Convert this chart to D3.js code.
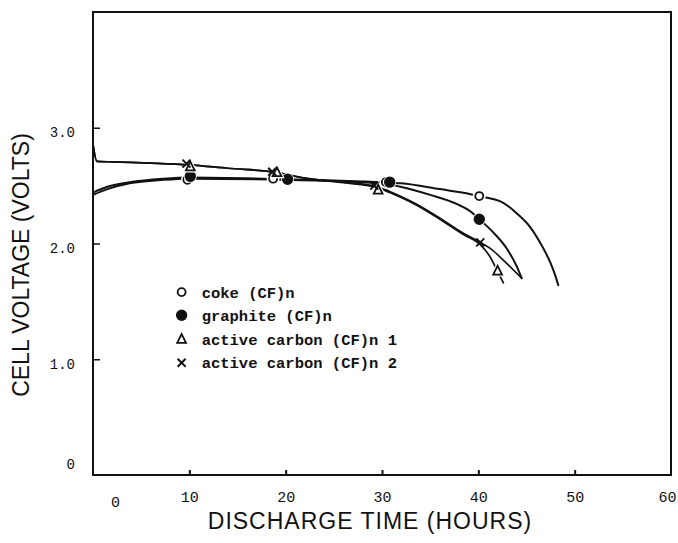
<!DOCTYPE html>
<html>
<head>
<meta charset="utf-8">
<script src="https://cdn.jsdelivr.net/npm/d3@7"></script>
<style>
  body { margin: 0; background: #fff; }
</style>
</head>
<body>
<div id="chart"></div>
<script>
// axis ticks
const xTickValues = [0, 10, 20, 30, 40, 50, 60];
const yTickValues = [0, 1, 2, 3];
const yTickLabels = ['0', '1.0', '2.0', '3.0'];

// curves: [hours, volts]
const cokeCurve = [[0, 2.44], [1.5, 2.49], [3.8, 2.53], [7.3, 2.56], [10, 2.57], [20, 2.555],
  [25, 2.545], [30, 2.53], [32, 2.52], [36, 2.47], [39, 2.43], [40, 2.41], [42.4, 2.36],
  [44, 2.26], [45.4, 2.14], [46.6, 1.98], [47.5, 1.83], [48, 1.72], [48.3, 1.64]];
const graphiteCurve = [[0, 2.42], [1.5, 2.47], [3.8, 2.52], [7.3, 2.55], [10, 2.56], [20, 2.55],
  [30, 2.52], [31.9, 2.49], [35, 2.42], [37.8, 2.34], [39.3, 2.27], [40.1, 2.21], [41.5, 2.10],
  [43, 1.95], [44, 1.80], [44.5, 1.70]];
const active1Curve = [[0, 2.86], [0.4, 2.71], [2, 2.705], [6, 2.695], [10, 2.68], [14, 2.65],
  [19, 2.615], [22, 2.565], [26, 2.525], [29.6, 2.48], [30.8, 2.44], [33.6, 2.33], [36, 2.21],
  [38.4, 2.08], [40.2, 1.99], [41.1, 1.90], [42, 1.76], [42.6, 1.66]];
const active2Curve = [[0, 2.86], [0.4, 2.71], [2, 2.705], [6, 2.695], [10, 2.68], [14, 2.65],
  [19, 2.615], [22, 2.565], [26, 2.53], [29.6, 2.49], [30.8, 2.45], [33.6, 2.34], [36, 2.22],
  [38.4, 2.09], [40.2, 2.01], [41.2, 1.96], [42.8, 1.84], [44.5, 1.70]];

// plotted symbols: [hours, volts]
const cokeMarks = [[9.8, 2.55], [18.7, 2.56], [30.4, 2.53], [40.1, 2.41]];
const graphiteMarks = [[10.1, 2.58], [20.2, 2.555], [30.8, 2.53], [40.1, 2.21]];
const active1Marks = [[10.1, 2.66], [19.1, 2.61], [29.6, 2.46], [42, 1.76]];
const active2Marks = [[9.7, 2.69], [18.6, 2.62], [29.2, 2.50], [40.2, 2.01]];

const legendLabels = ['coke (CF)n', 'graphite (CF)n', 'active carbon (CF)n 1', 'active carbon (CF)n 2'];
const legendValues = [1.58, 1.38, 1.17, 0.97];

const series = [
  { name: legendLabels[0], curve: cokeCurve, marks: cokeMarks, symbol: 'open', width: 2 },
  { name: legendLabels[1], curve: graphiteCurve, marks: graphiteMarks, symbol: 'filled', width: 2 },
  { name: legendLabels[2], curve: active1Curve, marks: active1Marks, symbol: 'triangle', width: 1.7 },
  { name: legendLabels[3], curve: active2Curve, marks: active2Marks, symbol: 'cross', width: 1.7 }
];

const width = 678;
const height = 543;
const margin = { top: 12, right: 7, bottom: 68, left: 93 };
const ink = '#111';

const svg = d3.select('#chart')
  .append('svg')
  .attr('width', width)
  .attr('height', height);

const xScale = d3.scaleLinear()
  .domain([0, 60])
  .range([margin.left, width - margin.right]);

const yScale = d3.scaleLinear()
  .domain([0, 4])
  .range([height - margin.bottom, margin.top]);

const line = d3.line()
  .x(d => xScale(d[0]))
  .y(d => yScale(d[1]))
  .curve(d3.curveMonotoneX);

// curves
svg.append('g')
  .selectAll('path')
  .data(series)
  .enter().append('path')
  .attr('fill', 'none')
  .attr('stroke', ink)
  .attr('stroke-width', d => d.width)
  .attr('stroke-linecap', 'round')
  .attr('d', d => line(d.curve));

function drawSymbol(g, type, halo) {
  if (type === 'open' || type === 'filled') {
    if (halo) g.append('circle').attr('r', 6.5).attr('fill', '#fff');
    g.append('circle')
      .attr('r', type === 'open' ? 4 : 4.8)
      .attr('fill', type === 'open' ? '#fff' : ink)
      .attr('stroke', ink)
      .attr('stroke-width', 1.8);
  } else if (type === 'triangle') {
    const s = 5.5;
    const tri = `M0,${-s}L${s * 0.8},${s * 0.6}L${-s * 0.8},${s * 0.6}Z`;
    if (halo) g.append('path').attr('d', tri).attr('fill', '#fff').attr('stroke', '#fff').attr('stroke-width', 4);
    g.append('path').attr('d', tri).attr('fill', 'none').attr('stroke', ink).attr('stroke-width', 1.8);
  } else {
    const s = 4;
    g.append('path')
      .attr('d', `M${-s},${-s}L${s},${s}M${s},${-s}L${-s},${s}`)
      .attr('stroke', ink)
      .attr('stroke-width', 2);
  }
}

// symbols on the curves
series.forEach(s => {
  s.marks.forEach(m => {
    const g = svg.append('g')
      .attr('transform', `translate(${xScale(m[0])},${yScale(m[1])})`);
    drawSymbol(g, s.symbol, true);
  });
});

// frame
svg.append('rect')
  .attr('x', margin.left)
  .attr('y', margin.top)
  .attr('width', width - margin.left - margin.right)
  .attr('height', height - margin.top - margin.bottom)
  .attr('fill', 'none')
  .attr('stroke', ink)
  .attr('stroke-width', 2);

// axes
svg.append('g')
  .attr('transform', `translate(0,${height - margin.bottom})`)
  .call(d3.axisBottom(xScale)
    .tickValues(xTickValues)
    .tickSizeInner(-5)
    .tickSizeOuter(0)
    .tickPadding(16)
    .tickFormat(d3.format('d')))
  .call(g => g.select('.domain').remove())
  .call(g => g.selectAll('.tick line')
    .attr('stroke', ink)
    .attr('stroke-width', 2)
    .style('display', d => (d === 0 || d === 60) ? 'none' : null))
  .call(g => g.selectAll('.tick text')
    .attr('fill', ink)
    .style('font-family', '"Liberation Mono", monospace')
    .style('font-size', '15px'))
  .call(g => g.selectAll('.tick')
    .filter(d => d === 0)
    .select('text')
    .attr('dx', 22)
    .attr('dy', '1.05em'))
  .call(g => g.selectAll('.tick')
    .filter(d => d === 60)
    .select('text')
    .attr('dx', -4));

svg.append('g')
  .attr('transform', `translate(${margin.left},0)`)
  .call(d3.axisLeft(yScale)
    .tickValues(yTickValues)
    .tickSizeInner(-7)
    .tickSizeOuter(0)
    .tickPadding(18)
    .tickFormat((d, i) => yTickLabels[i]))
  .call(g => g.select('.domain').remove())
  .call(g => g.selectAll('.tick line')
    .attr('stroke', ink)
    .attr('stroke-width', 1.5)
    .style('display', d => d === 0 ? 'none' : null))
  .call(g => g.selectAll('.tick text')
    .attr('fill', ink)
    .attr('dy', '0.65em')
    .style('font-family', '"Liberation Mono", monospace')
    .style('font-size', '14px'))
  .call(g => g.selectAll('.tick')
    .filter(d => d === 0)
    .select('text')
    .attr('dy', '-0.45em'));

// legend
const legend = svg.append('g')
  .selectAll('g')
  .data(series)
  .enter().append('g')
  .attr('transform', (d, i) => `translate(${xScale(9.2)},${yScale(legendValues[i])})`);

legend.each(function(d) {
  drawSymbol(d3.select(this), d.symbol, false);
});

legend.append('text')
  .attr('x', 20)
  .attr('dy', '0.35em')
  .attr('fill', ink)
  .style('font-family', '"Liberation Mono", monospace')
  .style('font-weight', 'bold')
  .style('font-size', '15.5px')
  .text(d => d.name);

// axis titles
svg.append('text')
  .attr('transform', 'rotate(-90)')
  .attr('x', -265)
  .attr('y', 29)
  .attr('text-anchor', 'middle')
  .attr('fill', ink)
  .style('font-family', '"Liberation Sans", Arial, sans-serif')
  .style('font-size', '23px')
  .text('CELL VOLTAGE (VOLTS)');

svg.append('text')
  .attr('x', 370)
  .attr('y', 529)
  .attr('text-anchor', 'middle')
  .attr('fill', ink)
  .style('font-family', '"Liberation Sans", Arial, sans-serif')
  .style('font-size', '23px')
  .style('letter-spacing', '1px')
  .text('DISCHARGE TIME (HOURS)');
</script>
</body>
</html>
